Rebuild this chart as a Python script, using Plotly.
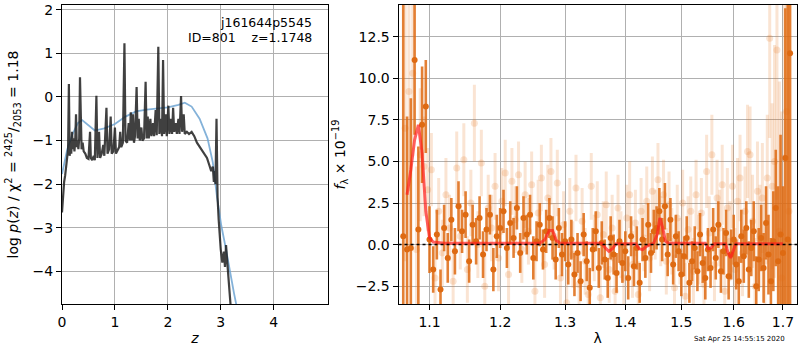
import plotly.graph_objects as go

# ---------------- left panel: p(z) ----------------
pz_z = [0.00,0.02,0.04,0.06,0.08,0.10,0.115,0.13,0.145,0.16,0.175,0.19,0.205,0.22,0.235,0.25,0.265,0.28,0.295,0.31,
        0.325,0.34,0.355,0.37,0.39,0.41,0.44,0.47,0.50,0.53,0.545,0.57,0.60,0.62,0.65,0.67,0.70,0.72,0.75,0.78,
        0.80,0.84,0.86,0.89,0.92,0.94,0.97,1.00,1.02,1.05,1.08,1.10,1.12,1.15,1.18,1.20,1.23,1.26,1.28,1.30,
        1.32,1.34,1.36,1.38,1.41,1.43,1.45,1.47,1.50,1.52,1.55,1.58,1.60,1.62,1.64,1.67,1.69,1.72,1.74,1.77,
        1.79,1.82,1.84,1.87,1.89,1.91,1.93,1.96,1.98,2.01,2.03,2.06,2.08,2.10,2.12,2.15,2.17,2.20,2.22,2.25,
        2.27,2.30,2.32,2.36,2.40,2.45,2.50,2.55,2.60,2.65,2.70,2.74,2.78,2.82,2.85,2.87,2.88,2.90,2.92,2.94,
        2.96,2.98,3.00,3.03,3.06,3.08,3.10,3.13,3.16,3.20]
pz_log = [-2.65,-2.15,-1.95,-1.8,-1.55,-1.45,-1.2,0.3,-1.35,-1.1,-1.3,-0.8,-1.2,-0.95,-1.25,-1.0,-0.4,-1.15,-1.0,-1.2,
          -0.95,0.45,-1.1,-1.2,-1.05,-1.25,-1.3,-1.4,-1.42,-0.8,-1.4,-1.45,-1.35,-1.45,0.03,-1.4,-0.8,-1.4,-1.3,-1.1,
          -1.35,-0.25,-1.3,-1.2,-0.45,-1.3,-1.25,-0.7,-1.3,-1.2,-1.15,-0.8,-1.15,-1.05,1.23,-1.0,-1.05,-0.6,-1.0,-0.35,
          -1.0,-0.4,-1.05,-0.9,0.23,-0.95,-0.5,-1.0,-0.7,-1.0,-0.95,0.35,-0.95,-0.45,-0.95,-0.5,-0.9,-0.6,-0.9,-0.3,
          -0.88,1.15,-0.85,-0.5,-0.9,0.85,-0.85,-0.4,-0.9,-0.2,-0.85,-0.5,-0.85,-0.25,-0.8,-0.6,-0.85,-0.5,-0.85,0.02,
          -0.8,-0.4,-0.85,-0.8,-0.85,-0.8,-0.9,-1.05,-1.15,-1.25,-1.35,-1.4,-1.55,-1.7,-1.6,-1.95,-1.7,-2.0,-0.5,-2.3,
          -2.8,-3.2,-3.5,-3.8,-3.55,-3.9,-3.4,-3.9,-4.3,-5.0]

fit_z = [0.0,0.1,0.2,0.3,0.38,0.5,0.62,0.8,1.0,1.2,1.4,1.6,1.8,2.0,2.2,2.32,2.45,2.6,2.75,2.85,2.93,3.01,3.1,3.17,3.25,3.3,3.4]
fit_log = [-1.77,-1.2,-0.85,-0.6,-0.53,-0.65,-0.77,-0.72,-0.62,-0.45,-0.33,-0.29,-0.26,-0.24,-0.18,-0.13,-0.22,-0.5,-0.95,-1.5,-2.3,-2.95,-3.5,-4.0,-4.5,-4.8,-5.4]

# ---------------- right panel: spectrum ----------------
lam_dark = [1.065,1.070,1.075,1.080,1.085,1.090,1.095,1.100,1.105,1.110,1.115,1.120,1.125,1.130,1.135,1.140,1.145,1.150,
            1.155,1.160,1.165,1.170,1.175,1.180,1.185,1.190,1.195,1.200,1.205,1.210,1.215,1.220,1.225,1.230,1.235,1.240,
            1.245,1.250,1.255,1.260,1.265,1.270,1.275,1.280,1.285,1.290,1.295,1.300,1.305,1.310,1.315,1.320,1.325,1.330,
            1.335,1.340,1.345,1.350,1.355,1.360,1.365,1.370,1.375,1.380,1.385,1.390,1.395,1.400,1.405,1.410,1.415,1.420,
            1.425,1.430,1.435,1.440,1.445,1.450,1.455,1.460,1.465,1.470,1.475,1.480,1.485,1.490,1.495,1.500,1.505,1.510,
            1.515,1.520,1.525,1.530,1.535,1.540,1.545,1.550,1.555,1.560,1.565,1.570,1.575,1.580,1.585,1.590,1.595,1.600,
            1.605,1.610,1.615,1.620,1.625,1.630,1.635,1.640,1.645,1.650,1.655,1.660,1.665,1.670,1.675,1.680,1.685,1.690,
            1.695,1.700,1.705,1.710,1.715]
flux_dark = [0.5,-0.3,-0.2,11.1,0.9,7.2,8.3,0.3,-1.5,0.6,-2.7,1.0,-0.8,1.5,-0.4,2.3,0.8,1.8,
             -1.0,1.2,0.2,1.6,-0.6,0.9,1.8,-1.5,0.5,1.0,2.0,-0.2,1.3,0.4,2.2,-0.5,1.6,0.6,
             1.8,-0.8,0.2,1.2,-0.3,0.8,1.6,0.4,-0.9,1.0,-0.6,0.2,-1.2,0.3,-1.8,-0.5,-2.2,0.6,
             -1.0,-2.6,-0.3,0.8,-1.4,0.1,-0.9,-2.0,0.4,-0.6,-1.7,0.2,-1.1,-0.4,-2.0,0.5,-1.3,-0.2,
             -2.3,0.3,-0.8,1.2,-0.5,0.8,1.0,2.0,0.3,2.3,-0.6,1.5,-1.2,0.5,-0.4,-1.8,-0.7,0.4,
             -2.3,-1.0,-0.2,-1.6,0.6,-1.1,-2.0,-0.3,-1.4,0.9,-0.8,1.2,-1.6,-0.4,0.7,-1.9,-0.6,0.3,
             -1.2,-2.2,0.5,-0.7,1.0,-1.5,-0.2,0.8,-2.5,-0.9,0.4,-1.4,1.3,-0.6,-2.2,0.2,2.2,-1.0,
             0.6,-0.5,5.2,0.3,11.5]
err_dark = [14,8,9,4.5,5,3.5,2.8,2.0,1.4,1.5,1.2,1.4,1.5,1.3,1.4,1.5,1.3,1.4,
            1.3,1.2,1.4,1.3,1.4,1.3,1.2,1.3,1.3,1.2,1.3,1.2,1.3,1.2,1.3,1.2,1.3,1.2,
            1.2,1.3,1.2,1.3,1.2,1.3,1.2,1.3,1.2,1.2,1.3,1.2,1.2,1.2,1.3,1.2,1.2,1.3,
            1.2,1.2,1.3,1.2,1.2,1.3,1.2,1.2,1.3,1.2,1.2,1.3,1.2,1.2,1.3,1.2,1.2,1.3,
            1.2,1.3,1.2,1.3,1.2,1.3,1.3,1.4,1.3,1.4,1.3,1.3,1.2,1.3,1.2,1.3,1.2,1.3,
            1.2,1.2,1.3,1.2,1.3,1.2,1.3,1.3,1.2,1.3,1.3,1.4,1.3,1.4,1.4,1.4,1.5,1.5,
            1.5,1.5,1.6,1.6,1.6,1.7,1.7,1.8,1.8,1.9,2.0,2.1,2.2,2.4,2.6,3.0,3.5,4.5,
            6,4.0,9,15,20]

lam_light = [1.0675,1.0725,1.0775,1.0825,1.0875,1.0925,1.0975,1.1025,1.1075,1.1125,1.1175,1.1225,1.1275,1.1325,1.1375,
             1.1425,1.1475,1.1525,1.1575,1.1625,1.1675,1.1725,1.1775,1.1825,1.1875,1.1925,1.1975,1.2025,1.2075,1.2125,
             1.2175,1.2225,1.2275,1.2325,1.2375,1.2425,1.2475,1.2525,1.2575,1.2625,1.2675,1.2725,1.2775,1.2825,1.2875,
             1.2925,1.2975,1.3025,1.3075,1.3125,1.3175,1.3225,1.3275,1.3325,1.3375,1.3425,1.3475,1.3525,1.3575,1.3625,
             1.3675,1.3725,1.3775,1.3825,1.3875,1.3925,1.3975,1.4025,1.4075,1.4125,1.4175,1.4225,1.4275,1.4325,1.4375,
             1.4425,1.4475,1.4525,1.4575,1.4625,1.4675,1.4725,1.4775,1.4825,1.4875,1.4925,1.4975,1.5025,1.5075,1.5125,
             1.5175,1.5225,1.5275,1.5325,1.5375,1.5425,1.5475,1.5525,1.5575,1.5625,1.5675,1.5725,1.5775,1.5825,1.5875,
             1.5925,1.5975,1.6025,1.6075,1.6125,1.6175,1.6225,1.6275,1.6325,1.6375,1.6425,1.6475,1.6525,1.6575,1.6625,
             1.6675,1.6725,1.6775,1.6825,1.6875,1.6925,1.6975,1.7025,1.7075,1.7125]
flux_light = [7.0,9.2,10.3,-0.3,5.4,4.7,3.3,4.5,-2.0,2.0,-0.5,3.0,1.0,-2.2,4.6,
              0.5,5.1,-1.5,2.5,7.3,0.0,4.9,-2.5,2.2,1.0,3.5,-0.8,2.6,4.3,-1.8,
              3.8,1.5,4.2,-0.3,3.0,0.8,3.6,-2.8,1.9,4.0,-1.2,2.8,4.4,0.5,3.7,
              -2.0,1.2,-3.5,2.0,-0.6,3.4,-2.4,1.4,-1.0,-3.0,3.5,-0.2,1.8,-3.2,0.6,
              2.4,-1.5,1.0,-2.8,2.2,0.0,-2.0,1.6,3.0,-1.2,1.3,-3.0,2.0,0.4,2.6,
              -0.8,3.2,1.2,3.9,0.8,3.0,-1.0,2.4,0.2,-2.6,1.6,-0.4,2.5,-3.1,0.9,
              2.0,-1.6,3.0,-0.3,1.9,-2.4,4.4,0.7,5.4,-1.2,2.8,1.0,3.6,-2.8,2.2,
              0.2,3.5,-1.5,2.6,4.0,-0.5,2.0,5.6,5.4,1.4,-2.5,3.2,0.5,2.8,-1.0,
              4.0,12.4,3.5,5.0,11.7,0.8,-2.0,5.2,8.0,2.0]
err_light = [8,6,5,5,4,3,2.5,2.2,2.0,2.0,2.0,2.2,2.0,2.0,2.2,
             2.0,2.2,2.0,2.0,2.3,2.0,2.0,2.0,2.0,2.0,2.0,2.0,2.0,2.0,2.0,
             2.0,2.0,2.0,2.0,2.0,2.0,2.0,2.0,2.0,2.0,2.0,2.0,2.0,2.0,2.0,
             2.0,2.0,2.0,2.0,2.0,2.0,2.0,2.0,2.0,2.0,2.0,2.0,2.0,2.0,2.0,
             2.0,2.0,2.0,2.0,2.0,2.0,2.0,2.0,2.0,2.0,2.0,2.0,2.0,2.0,2.1,
             2.0,2.1,2.1,2.2,2.1,2.1,2.0,2.0,2.0,2.0,2.0,2.0,2.0,2.0,2.0,
             2.1,2.0,2.1,2.1,2.1,2.1,2.2,2.2,2.4,2.2,2.3,2.3,2.4,2.3,2.4,
             2.4,2.5,2.5,2.6,2.6,2.6,2.7,2.8,2.9,2.8,2.9,3.0,3.1,3.3,3.5,
             3.8,6,5,7,9,9,10,12,15,18]

lam_model = [1.070,1.075,1.080,1.085,1.090,1.095,1.100,1.105,1.120,1.260,1.268,1.275,1.280,1.286,1.292,
             1.360,1.366,1.372,1.378,1.384,1.418,1.424,1.430,1.437,1.450,1.456,1.461,1.466,1.471,1.477,
             1.545,1.551,1.556,1.562,1.584,1.589,1.594,1.599,1.604,1.700]
flux_model = [3.0,4.5,6.3,7.2,5.5,2.0,0.4,0.15,0.08,0.08,0.3,0.85,0.85,0.25,0.08,
              0.08,-0.2,-0.4,-0.25,0.05,0.05,-0.25,-0.3,-0.1,0.1,0.6,1.6,1.0,0.2,0.08,
              0.08,-0.25,-0.2,0.05,0.05,-0.5,-0.8,-0.4,0.05,0.05]

dark_c = "rgb(222,106,18)"
dark_bar = "rgba(222,106,18,0.85)"
light_c = "rgba(228,118,35,0.2)"
FONT = "DejaVu Sans"

fig = go.Figure()

fig.add_trace(go.Scatter(x=fit_z, y=fit_log, mode="lines",
                         line=dict(color="rgba(110,165,210,0.85)", width=1.8),
                         xaxis="x", yaxis="y", showlegend=False))
fig.add_trace(go.Scatter(x=pz_z, y=pz_log, mode="lines",
                         line=dict(color="rgba(30,30,30,0.85)", width=2.2),
                         xaxis="x", yaxis="y", showlegend=False))

fig.add_trace(go.Scatter(x=lam_light, y=flux_light, mode="markers",
                         marker=dict(color=light_c, size=7),
                         error_y=dict(type="data", array=err_light, color=light_c, thickness=3, width=0),
                         xaxis="x2", yaxis="y2", showlegend=False))
fig.add_trace(go.Scatter(x=lam_dark, y=flux_dark, mode="markers",
                         marker=dict(color=dark_c, size=6),
                         error_y=dict(type="data", array=err_dark, color=dark_bar, thickness=2.6, width=0),
                         xaxis="x2", yaxis="y2", showlegend=False))
fig.add_trace(go.Scatter(x=lam_model, y=flux_model, mode="lines",
                         line=dict(color="rgba(255,30,30,0.7)", width=3),
                         xaxis="x2", yaxis="y2", showlegend=False))

fig.add_shape(type="line", xref="x2 domain", yref="y2", x0=0, x1=1, y0=0, y1=0,
              line=dict(color="black", width=1.5, dash="dot"), layer="above")

axis_common = dict(showline=True, linecolor="black", linewidth=1, mirror=True,
                   ticks="outside", ticklen=5, tickcolor="black", showgrid=True,
                   gridcolor="#b0b0b0", gridwidth=1, zeroline=False,
                   ticklabeloverflow="allow",
                   tickfont=dict(family=FONT, size=14, color="black"))

fig.update_layout(
    width=800, height=350,
    margin=dict(l=62, r=2, t=2, b=46),
    paper_bgcolor="white", plot_bgcolor="white",
    font=dict(family=FONT, color="black"),
    xaxis=dict(domain=[0, 266/736], range=[0, 5.02], tickvals=[0, 1, 2, 3, 4],
               title=dict(text="<i>z</i>", font=dict(size=14), standoff=4), **axis_common),
    yaxis=dict(domain=[0, 1], range=[-4.75, 2.11], tickvals=[-4, -3, -2, -1, 0, 1, 2],
               title=dict(text="log <i>p</i>(<i>z</i>) / χ<sup>2</sup> = <sup>2425</sup>/<sub>2053</sub> = 1.18",
                          font=dict(size=14), standoff=10), **axis_common),
    xaxis2=dict(domain=[337/736, 1], type="log", range=[0.02483, 0.23797],
                tickvals=[1.1, 1.2, 1.3, 1.4, 1.5, 1.6, 1.7],
                ticktext=["1.1", "1.2", "1.3", "1.4", "1.5", "1.6", "1.7"],
                anchor="y2", title=dict(text="λ", font=dict(size=14), standoff=4), **axis_common),
    yaxis2=dict(domain=[0, 1], range=[-3.57, 14.4], tick0=0, dtick=2.5, tickformat=".1f",
                anchor="x2", title=dict(text="<i>f</i><sub>λ</sub> × 10<sup>−19</sup>",
                                        font=dict(size=14), standoff=6), **axis_common),
    annotations=[
        dict(text="j161644p5545", xref="x domain", yref="y domain", x=0.947, y=0.940,
             xanchor="right", yanchor="middle", showarrow=False, font=dict(size=12.5, family=FONT)),
        dict(text="ID=801\u00a0\u00a0\u00a0\u00a0z=1.1748", xref="x domain", yref="y domain", x=0.947, y=0.891,
             xanchor="right", yanchor="middle", showarrow=False, font=dict(size=12.5, family=FONT)),
        dict(text="Sat Apr 25 14:55:15 2020", xref="paper", yref="paper", x=0.9864, y=-0.116,
             xanchor="right", yanchor="middle", showarrow=False, font=dict(size=7, family=FONT)),
    ],
)

fig.write_html("out.html", config={"displayModeBar": False},
               post_script="document.body.style.margin='0';document.body.style.overflow='hidden';")
